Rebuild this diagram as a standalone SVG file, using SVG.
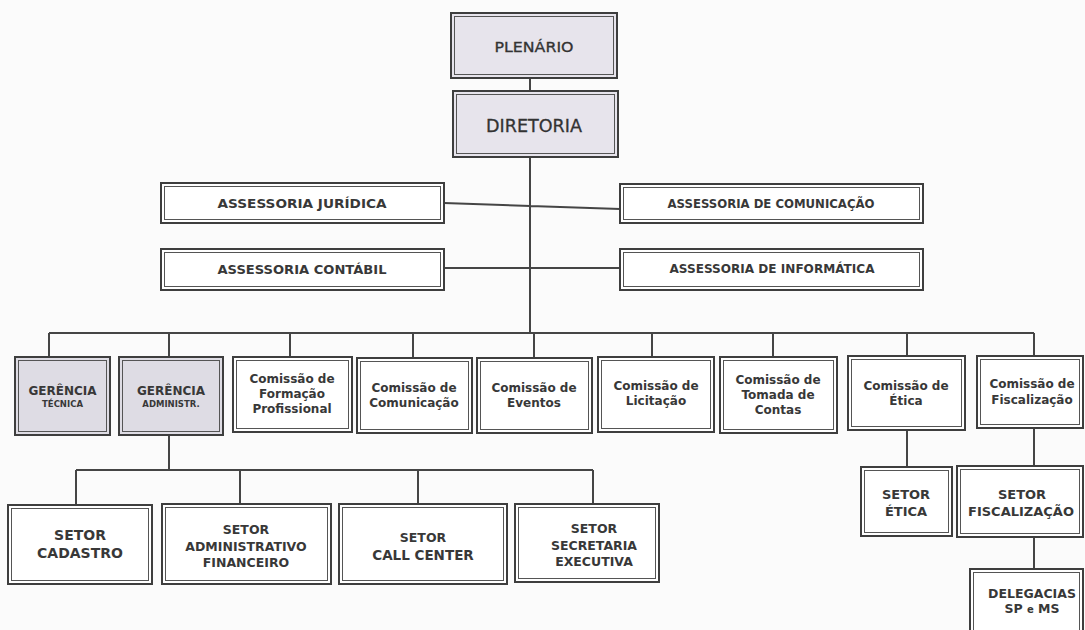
<svg xmlns="http://www.w3.org/2000/svg" width="1085" height="630" viewBox="0 0 1085 630">
<style>
.o{fill:#ffffff;stroke:#3e3e3e;stroke-width:2}
.i{fill:none;stroke:#555;stroke-width:1}
.g .o{fill:#dedce4}
.l .o{fill:#e7e4ec}
.t{font-family:"DejaVu Sans",Verdana,sans-serif;font-weight:bold;fill:#383838;text-anchor:middle}
.r{font-weight:normal;fill:#333}
.c{stroke:#454545;stroke-width:2;fill:none}
</style>
<rect width="1085" height="630" fill="#fbfbfb"/>
<g id="connectors">
<path class="c" d="M530 78V91M530 157V333M444 203L620 209M444 268H620M49 333H1034M49 333V357M169 333V357M290 333V357M413 333V358M534 333V358M652 333V357M773 333V357M907 333V356M1034 333V356M169 435V470M76 470H593M76 470V505M240 470V504M418 470V504M593 470V504M907 430V467M1034 428V466M1034 537V569"/>
</g>
<g id="plenario" class="l"><rect class="o" x="451" y="13" width="166" height="65"/><rect class="i" x="454.5" y="16.5" width="159" height="58"/><text class="t r" x="534" y="52" font-size="13.5" textLength="79" lengthAdjust="spacingAndGlyphs" stroke="#333" stroke-width="0.3">PLENÁRIO</text></g>
<g id="diretoria" class="l"><rect class="o" x="453" y="91" width="165" height="66"/><rect class="i" x="456.5" y="94.5" width="158" height="59"/><text class="t r" x="534" y="132" font-size="17" textLength="96" lengthAdjust="spacingAndGlyphs" stroke="#333" stroke-width="0.3">DIRETORIA</text></g>
<g id="ass-juridica"><rect class="o" x="161" y="183" width="283" height="40"/><rect class="i" x="164.5" y="186.5" width="276" height="33"/><text class="t" x="302" y="208" font-size="12" textLength="169" lengthAdjust="spacingAndGlyphs">ASSESSORIA JURÍDICA</text></g>
<g id="ass-comunicacao"><rect class="o" x="620" y="184" width="303" height="39"/><rect class="i" x="623.5" y="187.5" width="296" height="32"/><text class="t" x="771" y="208" font-size="12" textLength="207" lengthAdjust="spacingAndGlyphs">ASSESSORIA DE COMUNICAÇÃO</text></g>
<g id="ass-contabil"><rect class="o" x="161" y="249" width="283" height="41"/><rect class="i" x="164.5" y="252.5" width="276" height="34"/><text class="t" x="302" y="274" font-size="12" textLength="169" lengthAdjust="spacingAndGlyphs">ASSESSORIA CONTÁBIL</text></g>
<g id="ass-informatica"><rect class="o" x="620" y="249" width="303" height="41"/><rect class="i" x="623.5" y="252.5" width="296" height="34"/><text class="t" x="772" y="273" font-size="12" textLength="205" lengthAdjust="spacingAndGlyphs">ASSESSORIA DE INFORMÁTICA</text></g>
<g id="ger-tecnica" class="g"><rect class="o" x="15" y="357" width="95" height="78"/><rect class="i" x="18.5" y="360.5" width="88" height="71"/><text class="t" x="62.5" y="395" font-size="12">GERÊNCIA</text><text class="t" x="62.5" y="407" font-size="8.5">TÉCNICA</text></g>
<g id="ger-admin" class="g"><rect class="o" x="119" y="357" width="104" height="78"/><rect class="i" x="122.5" y="360.5" width="97" height="71"/><text class="t" x="171" y="395" font-size="12">GERÊNCIA</text><text class="t" x="171" y="407" font-size="8.5">ADMINISTR.</text></g>
<g id="com-formacao"><rect class="o" x="233" y="357" width="119" height="75"/><rect class="i" x="236.5" y="360.5" width="112" height="68"/><text class="t" x="292" y="383" font-size="12">Comissão de</text><text class="t" x="292" y="398" font-size="12">Formação</text><text class="t" x="292" y="413" font-size="12">Profissional</text></g>
<g id="com-comunicacao"><rect class="o" x="357" y="358" width="115" height="75"/><rect class="i" x="360.5" y="361.5" width="108" height="68"/><text class="t" x="414" y="392" font-size="12">Comissão de</text><text class="t" x="414" y="407" font-size="12">Comunicação</text></g>
<g id="com-eventos"><rect class="o" x="477" y="358" width="115" height="75"/><rect class="i" x="480.5" y="361.5" width="108" height="68"/><text class="t" x="534" y="392" font-size="12">Comissão de</text><text class="t" x="534" y="407" font-size="12">Eventos</text></g>
<g id="com-licitacao"><rect class="o" x="598" y="357" width="116" height="75"/><rect class="i" x="601.5" y="360.5" width="109" height="68"/><text class="t" x="656" y="390" font-size="12">Comissão de</text><text class="t" x="656" y="405" font-size="12">Licitação</text></g>
<g id="com-tomada"><rect class="o" x="720" y="357" width="117" height="76"/><rect class="i" x="723.5" y="360.5" width="110" height="69"/><text class="t" x="778" y="384" font-size="12">Comissão de</text><text class="t" x="778" y="399" font-size="12">Tomada de</text><text class="t" x="778" y="414" font-size="12">Contas</text></g>
<g id="com-etica"><rect class="o" x="848" y="356" width="117" height="74"/><rect class="i" x="851.5" y="359.5" width="110" height="67"/><text class="t" x="906" y="390" font-size="12">Comissão de</text><text class="t" x="906" y="405" font-size="12">Ética</text></g>
<g id="com-fiscalizacao"><rect class="o" x="977" y="356" width="106" height="72"/><rect class="i" x="980.5" y="359.5" width="99" height="65"/><text class="t" x="1032" y="388" font-size="12">Comissão de</text><text class="t" x="1032" y="404" font-size="12">Fiscalização</text></g>
<g id="setor-etica"><rect class="o" x="861" y="467" width="91" height="69"/><rect class="i" x="864.5" y="470.5" width="84" height="62"/><text class="t" x="906" y="499" font-size="13">SETOR</text><text class="t" x="906" y="516" font-size="13">ÉTICA</text></g>
<g id="setor-fiscalizacao"><rect class="o" x="957" y="466" width="126" height="71"/><rect class="i" x="960.5" y="469.5" width="119" height="64"/><text class="t" x="1022" y="499" font-size="13">SETOR</text><text class="t" x="1021" y="516" font-size="13">FISCALIZAÇÃO</text></g>
<g id="delegacias"><rect class="o" x="970" y="569" width="113" height="70"/><rect class="i" x="973.5" y="572.5" width="106" height="63"/><text class="t" x="1032" y="598" font-size="12.5">DELEGACIAS</text><text class="t" x="1032" y="613" font-size="12.5">SP <tspan font-size="10">e</tspan> MS</text></g>
<g id="setor-cadastro"><rect class="o" x="8" y="505" width="144" height="79"/><rect class="i" x="11.5" y="508.5" width="137" height="72"/><text class="t" x="80" y="540" font-size="14">SETOR</text><text class="t" x="80" y="558" font-size="14">CADASTRO</text></g>
<g id="setor-admfin"><rect class="o" x="162" y="504" width="169" height="80"/><rect class="i" x="165.5" y="507.5" width="162" height="73"/><text class="t" x="246" y="534" font-size="12.5">SETOR</text><text class="t" x="246" y="551" font-size="12.5">ADMINISTRATIVO</text><text class="t" x="246" y="567" font-size="12.5">FINANCEIRO</text></g>
<g id="setor-callcenter"><rect class="o" x="339" y="504" width="168" height="80"/><rect class="i" x="342.5" y="507.5" width="161" height="73"/><text class="t" x="423" y="542" font-size="12.5">SETOR</text><text class="t" x="423" y="560" font-size="13.5">CALL CENTER</text></g>
<g id="setor-secretaria"><rect class="o" x="515" y="504" width="144" height="78"/><rect class="i" x="518.5" y="507.5" width="137" height="71"/><text class="t" x="594" y="533" font-size="12.5">SETOR</text><text class="t" x="594" y="550" font-size="12.5">SECRETARIA</text><text class="t" x="594" y="566" font-size="12.5">EXECUTIVA</text></g>
</svg>
